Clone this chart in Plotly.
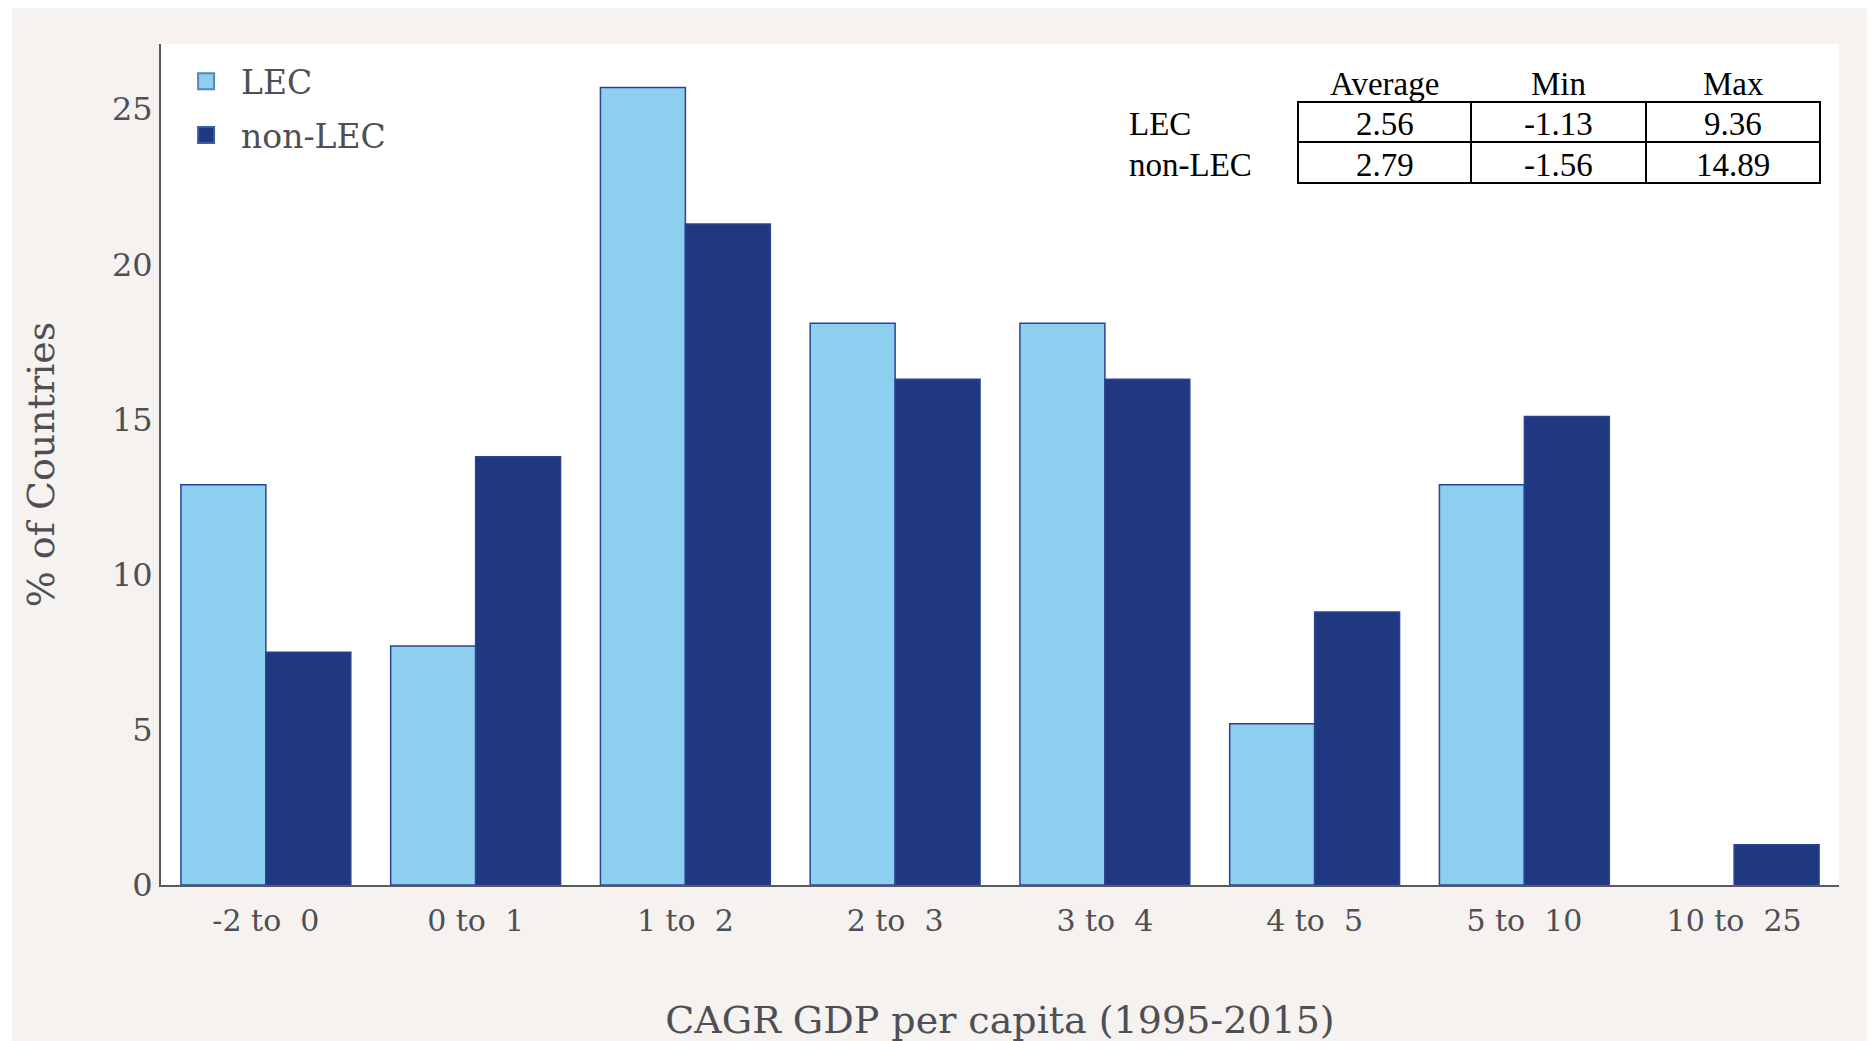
import plotly.graph_objects as go

categories = ["-2 to  0", "0 to  1", "1 to  2", "2 to  3", "3 to  4", "4 to  5", "5 to  10", "10 to  25"]
lec_values = [12.9, 7.7, 25.7, 18.1, 18.1, 5.2, 12.9, 0.0]
nonlec_values = [7.5, 13.8, 21.3, 16.3, 16.3, 8.8, 15.1, 1.3]
y_ticks = [0, 5, 10, 15, 20, 25]

table_header = ["Average", "Min", "Max"]
table_rows = ["LEC", "non-LEC"]
table_lec = ["2.56", "-1.13", "9.36"]
table_nonlec = ["2.79", "-1.56", "14.89"]

W, H = 1875, 1041
OFF = 8  # page body margin offset
ML, MR, MT, MB = 153, 44, 36, 164
PW, PH = W - ML - MR, H - MT - MB

def px(x):
    return (x - OFF - ML) / PW

def py(y):
    return (H - MB - (y - OFF)) / PH

FONT = "Georgia, 'DejaVu Serif', serif"
TFONT = "'Liberation Serif', 'Times New Roman', serif"
TXT = "#4d4f55"
LIGHT = "#8ccfee"
DARK = "#1f3880"
EDGE = "#2a4396"

fig = go.Figure()
fig.add_trace(go.Bar(
    x=categories, y=lec_values, name="LEC", showlegend=False,
    marker=dict(color=LIGHT,
                line=dict(color=EDGE, width=[1.5 if v > 0 else 0 for v in lec_values])),
))
fig.add_trace(go.Bar(
    x=categories, y=nonlec_values, name="non-LEC", showlegend=False,
    marker=dict(color=DARK,
                line=dict(color=EDGE, width=[1.5 if v > 0 else 0 for v in nonlec_values])),
))
# legend entries
fig.add_trace(go.Scatter(
    x=[None], y=[None], mode="markers", name="LEC", legendgroup="a",
    marker=dict(symbol="square", size=16, color=LIGHT, line=dict(color="#5b84b8", width=2)),
))
fig.add_trace(go.Scatter(
    x=[None], y=[None], mode="markers", name="non-LEC", legendgroup="b",
    marker=dict(symbol="square", size=16, color=DARK, line=dict(color="#3560b0", width=2)),
))

fig.update_layout(
    width=W, height=H,
    margin=dict(l=ML, r=MR, t=MT, b=MB),
    paper_bgcolor="#f6f2ef",
    plot_bgcolor="#ffffff",
    barmode="group",
    bargap=0.19,
    bargroupgap=0,
    font=dict(family=FONT, color=TXT),
    legend=dict(
        x=0.006, y=0.989, xanchor="left", yanchor="top",
        font=dict(family=FONT, size=33, color=TXT),
        bgcolor="rgba(0,0,0,0)",
        itemwidth=60,
        traceorder="grouped",
        tracegroupgap=8,
    ),
    xaxis=dict(
        showline=True, linecolor="#5a5a5a", linewidth=2,
        showgrid=False, ticks="outside", ticklen=8, tickcolor="rgba(0,0,0,0)",
        tickfont=dict(family=FONT, size=30, color=TXT),
        title=dict(text="CAGR GDP per capita (1995-2015)",
                   font=dict(family=FONT, size=38, color=TXT), standoff=69),
        range=[-0.5, 7.5],
    ),
    yaxis=dict(
        showline=True, linecolor="#5a5a5a", linewidth=2,
        showgrid=False, ticks="", zeroline=False,
        tickvals=y_ticks,
        tickfont=dict(family=FONT, size=32, color=TXT),
        title=dict(text="% of Countries",
                   font=dict(family=FONT, size=38, color=TXT), standoff=46),
        range=[0, 27.1],
    ),
    showlegend=True,
)

# narrow white strip at the left edge of the page
fig.add_shape(type="rect", xref="paper", yref="paper",
              x0=-ML / PW, x1=(4 - ML) / PW, y0=-MB / PH, y1=(H - MB) / PH,
              fillcolor="#ffffff", line=dict(width=0), layer="below")

# summary table
col_edges = [1298, 1471, 1646, 1820]
row_edges = [102, 142, 183]
for r in range(2):
    for c in range(3):
        fig.add_shape(type="rect", xref="paper", yref="paper",
                      x0=px(col_edges[c]), x1=px(col_edges[c + 1]),
                      y0=py(row_edges[r + 1]), y1=py(row_edges[r]),
                      line=dict(color="#000000", width=2), fillcolor="rgba(0,0,0,0)")
for c, h in enumerate(table_header):
    fig.add_annotation(xref="paper", yref="paper",
                       x=px((col_edges[c] + col_edges[c + 1]) / 2), y=py(84),
                       xanchor="center", yanchor="middle",
                       text=h, showarrow=False,
                       font=dict(family=TFONT, size=33, color="#000000"))
for r, (label, vals) in enumerate(zip(table_rows, [table_lec, table_nonlec])):
    yc = (row_edges[r] + row_edges[r + 1]) / 2 + 2
    fig.add_annotation(xref="paper", yref="paper", x=px(1127), y=py(yc),
                       xanchor="left", yanchor="middle", text=label, showarrow=False,
                       font=dict(family=TFONT, size=33, color="#000000"))
    for c, v in enumerate(vals):
        fig.add_annotation(xref="paper", yref="paper",
                           x=px((col_edges[c] + col_edges[c + 1]) / 2), y=py(yc),
                           xanchor="center", yanchor="middle",
                           text=v, showarrow=False,
                           font=dict(family=TFONT, size=33, color="#000000"))

fig.write_html("out.html")
